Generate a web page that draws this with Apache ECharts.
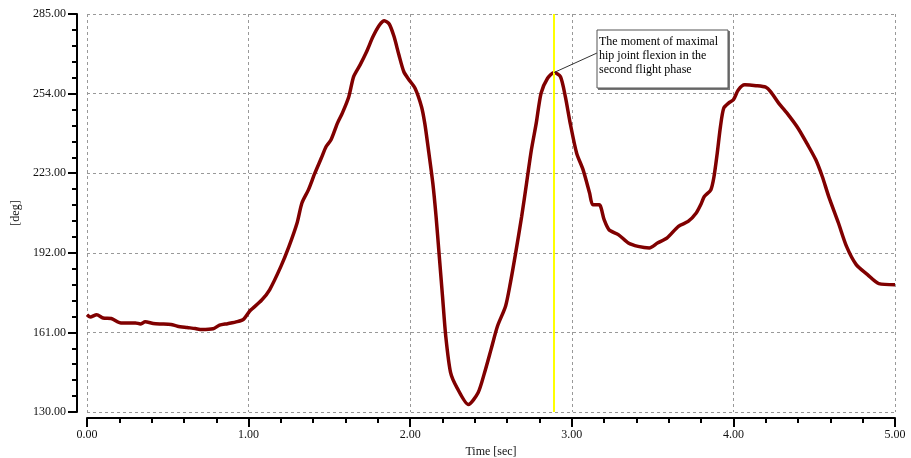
<!DOCTYPE html>
<html>
<head>
<meta charset="utf-8">
<script src="https://cdn.jsdelivr.net/npm/echarts@6/dist/echarts.min.js"></script>
<style>
html,body{margin:0;padding:0;background:#fff;}
#chart{width:911px;height:458px;}
</style>
</head>
<body>
<div id="chart"></div>
<script>
// Time [sec]
var times = [0.00,0.02,0.06,0.10,0.15,0.21,0.30,0.33,0.36,0.41,0.45,0.52,0.56,0.62,0.67,0.71,0.78,0.82,0.87,0.93,0.97,
  1.01,1.08,1.13,1.20,1.25,1.30,1.33,1.37,1.41,1.45,1.48,1.51,1.55,1.58,1.62,1.65,1.69,1.73,1.77,1.81,1.84,1.87,1.90,1.93,1.96,1.99,
  2.03,2.07,2.09,2.11,2.14,2.16,2.18,2.20,2.22,2.25,2.29,2.36,2.42,2.46,2.50,2.54,2.59,2.62,2.65,2.69,2.72,2.75,2.78,2.81,2.85,2.89,2.93,2.96,2.99,
  3.03,3.07,3.11,3.13,3.17,3.20,3.23,3.29,3.35,3.41,3.48,3.53,3.59,3.66,3.72,3.77,3.80,3.82,3.86,3.88,3.90,3.92,3.94,3.97,
  4.00,4.03,4.07,4.14,4.20,4.23,4.28,4.34,4.40,4.46,4.51,4.55,4.59,4.65,4.70,4.76,4.83,4.90,5.00];
// Angle [deg]
var angles = [167.9,167.0,167.9,166.6,166.4,164.7,164.7,164.3,165.1,164.5,164.3,164.1,163.4,162.9,162.5,162.1,162.4,163.8,164.4,165.2,166.2,
  169.5,173.5,177.6,186.7,194.5,203.6,211.4,216.5,223.0,228.9,233.4,236.0,242.5,246.4,252.8,260.6,265.2,270.3,276.2,280.7,282.4,281.1,276.2,269.1,262.6,259.6,
  256.1,248.9,242.5,233.5,219.1,206.2,190.6,175.0,159.5,145.3,139.4,132.9,137.5,145.3,154.3,163.4,171.2,180.3,191.0,206.2,219.1,232.1,242.5,254.2,260.0,262.2,260.6,252.8,242.5,
  230.8,224.3,215.3,210.7,210.7,204.9,201.0,199.0,195.8,194.5,193.9,195.8,197.8,202.3,204.2,207.5,211.0,213.9,216.5,221.7,230.8,241.2,248.3,250.3,
  251.6,255.4,257.4,257.1,256.5,254.8,250.3,245.7,240.5,234.0,228.2,221.7,213.9,203.6,194.5,187.4,183.5,180.0,179.6];
var markerTime = 2.89;
var peakTime = 2.89, peakValue = 262.2;
var noteLines = ['The moment of maximal', 'hip joint flexion in the', 'second flight phase'];
var yMin = 130, yMax = 285, yStep = 31;
var xMin = 0, xMax = 5, xStep = 1;

var data = times.map(function (t, i) { return [t, angles[i]]; });
var font = '"Liberation Serif", "Times New Roman", serif';

var chart = echarts.init(document.getElementById('chart'), null, {renderer: 'canvas'});
var option = {
  animation: false,
  backgroundColor: '#fff',
  grid: {left: 87, right: 16, top: 14, bottom: 46, containLabel: false, outerBoundsMode: 'none'},
  xAxis: {
    type: 'value', min: xMin, max: xMax, interval: xStep, offset: 6,
    name: 'Time [sec]', nameLocation: 'middle', nameGap: 28, nameMoveOverlap: false,
    nameTextStyle: {fontFamily: font, fontSize: 12, color: '#111'},
    axisLine: {show: true, onZero: false, lineStyle: {color: '#000', width: 2}},
    axisTick: {show: true, length: 9, lineStyle: {color: '#000', width: 2}},
    minorTick: {show: true, splitNumber: 5, length: 5, lineStyle: {color: '#000', width: 2}},
    axisLabel: {margin: 11, fontFamily: font, fontSize: 12, color: '#111',
      formatter: function (v) { return v.toFixed(2); }},
    splitLine: {show: true, lineStyle: {color: '#999', type: [3, 3], width: 1}}
  },
  yAxis: {
    type: 'value', min: yMin, max: yMax, interval: yStep, offset: 10,
    name: '[deg]', nameLocation: 'middle', nameGap: 55, nameRotate: 90, nameMoveOverlap: false,
    nameTextStyle: {fontFamily: font, fontSize: 12, color: '#111'},
    axisLine: {show: true, onZero: false, lineStyle: {color: '#000', width: 2}},
    axisTick: {show: true, length: 9, lineStyle: {color: '#000', width: 2}},
    minorTick: {show: true, splitNumber: 5, length: 5, lineStyle: {color: '#000', width: 2}},
    axisLabel: {margin: 11, fontFamily: font, fontSize: 12, color: '#111',
      formatter: function (v) { return v.toFixed(2); }},
    splitLine: {show: true, lineStyle: {color: '#999', type: [3, 3], width: 1}}
  },
  series: [{
    type: 'line', data: data, showSymbol: false, symbol: 'none', smooth: 0.25,
    lineStyle: {color: '#800000', width: 3.5},
    z: 3,
    markLine: {
      silent: true, symbol: 'none', animation: false,
      label: {show: false},
      lineStyle: {color: '#ffff00', width: 2, type: 'solid'},
      data: [{xAxis: markerTime}]
    }
  }]
};
chart.setOption(option);

var peak = chart.convertToPixel({gridIndex: 0}, [peakTime, peakValue]);
var boxX = 597, boxY = 30, boxW = 131, boxH = 58;
chart.setOption({
  graphic: [
    {type: 'line', z: 100, shape: {x1: peak[0], y1: peak[1], x2: boxX, y2: boxY + 23},
      style: {stroke: '#333', lineWidth: 1}},
    {type: 'polyline', z: 100, shape: {points: [[boxX + boxW + 1, boxY + 1], [boxX + boxW + 1, boxY + boxH + 1], [boxX + 1, boxY + boxH + 1]]},
      style: {stroke: '#777', lineWidth: 2, fill: null}},
    {type: 'rect', z: 101, shape: {x: boxX, y: boxY, width: boxW, height: boxH},
      style: {fill: '#fff', stroke: '#555', lineWidth: 1}},
    {type: 'text', z: 102, x: boxX + 2, y: boxY + 5,
      style: {text: noteLines.join('\n'), font: '12px ' + font, fill: '#000', lineHeight: 14}}
  ]
});
</script>
</body>
</html>
